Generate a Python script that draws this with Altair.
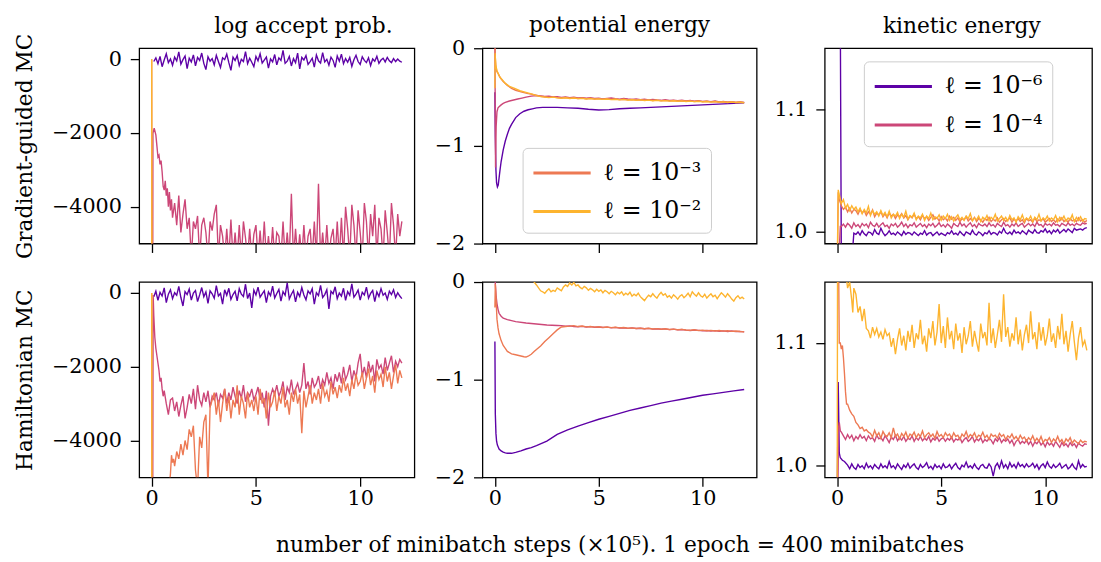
import altair as alt
import pandas as pd

L6, L4, L3, L2 = "ℓ = 10⁻⁶", "ℓ = 10⁻⁴", "ℓ = 10⁻³", "ℓ = 10⁻²"
SERIES = [L6, L4, L3, L2]
COLORS = ["#5d01a6", "#cc4778", "#ed7953", "#fdb42f"]
FONT = "DejaVu Serif"

COL_TITLES = ["log accept prob.", "potential energy", "kinetic energy"]
ROW_TITLES = ["Gradient-guided MC", "Hamiltonian MC"]
X_TITLE = "number of minibatch steps (×10⁵). 1 epoch = 400 minibatches"
X_TICKS = [0, 5, 10]
LOGP_TICKS = [0, -2000, -4000]
PE_TICKS = [0, -1, -2]
KE_TICKS = [1.0, 1.1]

# ---------------- Gradient-guided MC : log accept prob. ----------------
gg_lap_l6_tail_start = 0.1
gg_lap_l6_tail = [
    -60, 40, -120, 80, -200, -20, 150, -90, 10, -160,
    60, -40, 200, -130, -10, 90, -250, 30, -70, 120,
    -180, 50, -30, 170, -110, -280, 70, -50, 20, -150,
    110, -60, -220, 40, -10, 140, -90, -300, 60, -30,
    100, -170, 0, -60, 210, -120, 30, -80, -200, 80,
    -40, 150, -100, -20, 60, -240, 10, -70, 130, -150,
    40, -30, 240, -110, -50, 80, -180, 20, -90, 170,
    -260, 50, -20, 100, -140, -60, 30, -210, 120, -40,
    -100, 180, -70, 0, -160, 60, -30, -220, 90, -50,
    140, -120, 20, -80, 50, -190, -10, 110, -60, -140,
    70, -30, -90, 40, -170, 10, -50, 80, -110, -20,
    30, -70, 50, -40, -90, 20, -60, 10, -50, -80]
gg_lap_l4_head_x = [0.05, 0.06, 0.12, 0.2, 0.25, 0.3, 0.35, 0.4, 0.45, 0.5, 0.55, 0.6, 0.65, 0.7, 0.75, 0.8, 0.85, 0.9, 0.95, 1.0]
gg_lap_l4_head_y = [-5600, -2000, -1870, -2050, -2350, -2650, -2600, -2850, -2750, -3050, -3450, -3550, -3300, -3700, -3500, -4000, -3600, -4100, -3800, -4300]
gg_lap_l4_tail_start = 1.1
gg_lap_l4_tail = [
    -3900, -4500, -3700, -4700, -4200, -3800, -4600, -4300, -5400, -4400,
    -4600, -4250, -5400, -4500, -4300, -4700, -5400, -4400, -4650, -4200,
    -3950, -5400, -4500, -4800, -5400, -4600, -5400, -4350, -5400, -4700,
    -5400, -4500, -5400, -4400, -4850, -5400, -4600, -5400, -4750, -4500,
    -5400, -4650, -5400, -4400, -5400, -4800, -5400, -4550, -5400, -4700,
    -4800, -5400, -4400, -5400, -4700, -5400, -3650, -5400, -4600, -5400,
    -4750, -5400, -4500, -5400, -4800, -4600, -5400, -4400, -5400, -3380,
    -5400, -4700, -5400, -4500, -5400, -4850, -4600, -5400, -4400, -5400,
    -4300, -5400, -4000, -4600, -5400, -3950, -4500, -5400, -4100, -4700,
    -5400, -3900, -4400, -5400, -4200, -4800, -3950, -5400, -4300, -4600,
    -5400, -4100, -4700, -5400, -3900, -4500, -5400, -4200, -4800, -4400]
gg_lap_l3_x = [0, 0.01, 12]
gg_lap_l3_y = [0, -6000, -6000]
gg_lap_l2_x = [0, 0.01, 12]
gg_lap_l2_y = [0, -6000, -6000]

# ---------------- Gradient-guided MC : potential energy ----------------
gg_pe_l6_x = [0, 0.02, 0.05, 0.08, 0.12, 0.16, 0.2, 0.25, 0.3, 0.4, 0.5, 0.6, 0.7, 0.8, 1.0, 1.2, 1.4, 1.6, 1.8, 2.0,
              2.3, 2.6, 3.0, 3.5, 4.0, 4.5, 5.0, 5.5, 6.0, 6.5, 7.0, 7.5, 8.0, 8.5, 9.0, 9.5, 10.0, 10.5, 11.0, 11.5, 12.0]
gg_pe_l6_y = [-0.45, -0.9, -1.25, -1.38, -1.42, -1.40, -1.33, -1.24, -1.16, -1.04, -0.95, -0.88, -0.82, -0.78, -0.71,
              -0.67, -0.645, -0.63, -0.62, -0.61, -0.605, -0.605, -0.605, -0.61, -0.615, -0.625, -0.632, -0.628,
              -0.62, -0.615, -0.61, -0.605, -0.60, -0.595, -0.59, -0.585, -0.58, -0.575, -0.57, -0.565, -0.558]
gg_pe_l4_head_x = [0, 0.015, 0.03, 0.06, 0.1, 0.15, 0.2, 0.3, 0.4, 0.5, 0.7, 0.9, 1.1, 1.3, 1.5, 1.75, 2.0]
gg_pe_l4_head_y = [0.05, -0.6, -1.22, -0.8, -0.65, -0.61, -0.6, -0.58, -0.565, -0.555, -0.54, -0.53, -0.52, -0.51, -0.5, -0.49, -0.485]
gg_pe_l3_head_x = [0, 0.02, 0.05, 0.1, 0.16, 0.25, 0.4, 0.6, 0.8, 1.0, 1.3, 1.6, 2.0]
gg_pe_l3_head_y = [0.1, -0.1, -0.2, -0.24, -0.26, -0.3, -0.34, -0.38, -0.41, -0.43, -0.45, -0.465, -0.48]
gg_pe_l2_head_x = [0, 0.01, 0.04, 0.1, 0.2, 0.3, 0.5, 0.7, 0.95, 1.2, 1.45, 1.8, 2.0]
gg_pe_l2_head_y = [-0.41, -0.05, -0.17, -0.23, -0.28, -0.31, -0.36, -0.39, -0.41, -0.435, -0.45, -0.47, -0.485]
gg_pe_tail_start = 2.2
gg_pe_l4_tail = [
    -0.487, -0.494, -0.491, -0.499, -0.496, -0.503, -0.498, -0.506, -0.502, -0.509,
    -0.507, -0.512, -0.506, -0.515, -0.511, -0.518, -0.513, -0.509, -0.516, -0.521,
    -0.514, -0.52, -0.525, -0.518, -0.526, -0.522, -0.53, -0.524, -0.529, -0.533,
    -0.526, -0.535, -0.531, -0.538, -0.532, -0.54, -0.535, -0.543, -0.537, -0.545,
    -0.541, -0.547, -0.54, -0.549, -0.545, -0.552, -0.547, -0.554, -0.55, -0.556]
gg_pe_l3_tail = [
    -0.492, -0.497, -0.503, -0.498, -0.505, -0.51, -0.504, -0.511, -0.507, -0.514,
    -0.51, -0.517, -0.513, -0.519, -0.516, -0.522, -0.517, -0.524, -0.52, -0.526,
    -0.522, -0.528, -0.524, -0.531, -0.527, -0.533, -0.529, -0.535, -0.531, -0.537,
    -0.534, -0.539, -0.535, -0.541, -0.537, -0.543, -0.539, -0.545, -0.541, -0.547,
    -0.543, -0.549, -0.545, -0.551, -0.547, -0.553, -0.549, -0.555, -0.551, -0.557]
gg_pe_l2_tail = [
    -0.495, -0.5, -0.505, -0.501, -0.508, -0.512, -0.507, -0.514, -0.51, -0.516,
    -0.513, -0.519, -0.515, -0.521, -0.518, -0.524, -0.52, -0.526, -0.522, -0.528,
    -0.524, -0.531, -0.527, -0.533, -0.529, -0.535, -0.531, -0.537, -0.533, -0.539,
    -0.536, -0.541, -0.537, -0.543, -0.539, -0.545, -0.541, -0.547, -0.543, -0.549,
    -0.545, -0.551, -0.547, -0.553, -0.549, -0.555, -0.551, -0.556, -0.553, -0.558]

# ---------------- Gradient-guided MC : kinetic energy ----------------
gg_ke_l6_head_x = [0, 0.12, 0.2, 0.7]
gg_ke_l6_head_y = [1.3, 1.3, 0.97, 0.975]
gg_ke_l6_tail_start = 0.8
gg_ke_l6_tail = [
    0.9985, 0.9975, 0.9995, 0.997, 1.0005, 0.998, 0.9965, 0.9995, 0.999, 0.997,
    1.0015, 0.9985, 0.9975, 1.0025, 0.999, 0.9965, 0.998, 1.0005, 0.9975, 0.9985,
    0.997, 0.9995, 0.998, 0.9965, 1.0, 0.9975, 0.999, 0.9985, 0.997, 0.9995,
    0.998, 0.9965, 0.9985, 0.9975, 1.0005, 0.997, 0.9985, 0.999, 0.9965, 0.998,
    0.9995, 0.997, 0.9985, 0.9975, 0.9965, 0.999, 0.998, 1.0005, 0.9975, 0.9985,
    0.997, 1.0, 0.998, 0.9965, 0.9995, 0.9985, 0.9975, 1.001, 0.998, 0.997,
    0.9995, 0.9985, 0.9965, 0.999, 0.998, 1.0005, 0.9975, 0.999, 0.9985, 0.997,
    1.0, 0.9985, 1.0025, 0.999, 0.998, 0.9995, 0.9975, 1.001, 0.9985, 0.9995,
    0.998, 1.0005, 0.999, 0.9975, 1.001, 0.9995, 0.9985, 1.0015, 0.999, 0.9985,
    1.0005, 0.9995, 1.002, 0.999, 1.0005, 0.998, 1.001, 0.9995, 1.0015, 0.9985,
    1.0, 1.0015, 0.9995, 1.002, 1.0005, 0.999, 1.0025, 1.001, 1.0015, 1.002,
    1.001, 1.0025, 1.003]
gg_ke_l4_head_x = [0, 0.1, 0.15]
gg_ke_l4_head_y = [0.96, 0.985, 1.004]
gg_ke_l4_tail_start = 0.2
gg_ke_l4_tail = [
    1.004, 1.006, 1.0035, 1.0065, 1.005, 1.0025, 1.007, 1.004, 1.0055, 1.003,
    1.0065, 1.0045, 1.006, 1.003, 1.0075, 1.005, 1.004, 1.0065, 1.0035, 1.0055,
    1.007, 1.004, 1.005, 1.0025, 1.006, 1.0045, 1.0065, 1.0035, 1.005, 1.0075,
    1.004, 1.006, 1.003, 1.0055, 1.0045, 1.007, 1.0035, 1.005, 1.0065, 1.004,
    1.0055, 1.003, 1.006, 1.0045, 1.0065, 1.0035, 1.005, 1.007, 1.004, 1.0055,
    1.0035, 1.006, 1.0045, 1.0025, 1.0065, 1.005, 1.004, 1.0075, 1.0045, 1.006,
    1.0035, 1.0055, 1.007, 1.004, 1.0055, 1.003, 1.0065, 1.005, 1.0045, 1.006,
    1.004, 1.007, 1.0045, 1.0055, 1.0035, 1.0065, 1.005, 1.004, 1.0075, 1.0045,
    1.0055, 1.0035, 1.006, 1.0045, 1.007, 1.004, 1.0055, 1.0065, 1.0035, 1.005,
    1.0065, 1.0045, 1.006, 1.004, 1.0075, 1.005, 1.0055, 1.0035, 1.0065, 1.005,
    1.006, 1.0045, 1.007, 1.005, 1.0055, 1.004, 1.0065, 1.0055, 1.0045, 1.007,
    1.005, 1.006, 1.0045, 1.0065, 1.0055, 1.005, 1.007, 1.006, 1.0065]
gg_ke_l3_head_x = [0, 0.05]
gg_ke_l3_head_y = [0.96, 1.032]
gg_ke_l3_tail_start = 0.1
gg_ke_l3_tail = [
    1.026, 1.021, 1.018, 1.02, 1.016, 1.019, 1.015, 1.018, 1.017, 1.014,
    1.018, 1.015, 1.017, 1.013, 1.016, 1.014, 1.0175, 1.012, 1.015, 1.0135,
    1.016, 1.012, 1.0145, 1.011, 1.015, 1.0125, 1.014, 1.0105, 1.0135, 1.012,
    1.0145, 1.011, 1.013, 1.0095, 1.0125, 1.011, 1.014, 1.0105, 1.012, 1.0095,
    1.013, 1.0105, 1.012, 1.009, 1.0115, 1.0135, 1.01, 1.0115, 1.0085, 1.012,
    1.0095, 1.011, 1.0085, 1.0125, 1.01, 1.0115, 1.009, 1.011, 1.008, 1.0105,
    1.0095, 1.012, 1.0085, 1.0105, 1.009, 1.0115, 1.008, 1.0105, 1.0095, 1.0075,
    1.0105, 1.009, 1.0115, 1.008, 1.01, 1.0085, 1.011, 1.0075, 1.0095, 1.0105,
    1.008, 1.0095, 1.011, 1.0075, 1.01, 1.0085, 1.0105, 1.008, 1.0095, 1.007,
    1.0105, 1.0085, 1.0095, 1.0075, 1.011, 1.008, 1.0095, 1.0085, 1.0105, 1.0075,
    1.009, 1.0105, 1.008, 1.0095, 1.0075, 1.01, 1.0085, 1.011, 1.008, 1.0095,
    1.0075, 1.0105, 1.0085, 1.0095, 1.008, 1.011, 1.0085, 1.0095, 1.0075, 1.009]
gg_ke_l2_head_x = [0, 0.05]
gg_ke_l2_head_y = [0.97, 1.034]
gg_ke_l2_tail_start = 0.1
gg_ke_l2_tail = [
    1.03, 1.023, 1.026, 1.019, 1.022, 1.017, 1.021, 1.018, 1.02, 1.016,
    1.019, 1.0145, 1.018, 1.015, 1.0205, 1.013, 1.017, 1.014, 1.016, 1.0125,
    1.017, 1.013, 1.0155, 1.012, 1.0165, 1.011, 1.014, 1.0125, 1.0155, 1.0105,
    1.014, 1.0115, 1.0165, 1.01, 1.013, 1.0115, 1.015, 1.0095, 1.0125, 1.011,
    1.014, 1.009, 1.0125, 1.0105, 1.015, 1.0095, 1.012, 1.0105, 1.0135, 1.009,
    1.0125, 1.0105, 1.014, 1.009, 1.012, 1.0085, 1.0115, 1.0135, 1.0095, 1.0115,
    1.009, 1.0125, 1.0105, 1.0145, 1.0085, 1.011, 1.0095, 1.0125, 1.008, 1.0115,
    1.0095, 1.013, 1.0085, 1.0115, 1.01, 1.014, 1.0085, 1.0105, 1.0125, 1.009,
    1.0115, 1.0085, 1.013, 1.0095, 1.011, 1.0075, 1.012, 1.0095, 1.0135, 1.0085,
    1.011, 1.0095, 1.0125, 1.008, 1.0115, 1.0095, 1.014, 1.0085, 1.011, 1.0095,
    1.0125, 1.0085, 1.011, 1.0095, 1.013, 1.008, 1.0115, 1.0095, 1.0125, 1.0085,
    1.011, 1.0095, 1.0135, 1.008, 1.0115, 1.009, 1.012, 1.0085, 1.0105, 1.01]

# ---------------- Hamiltonian MC : log accept prob. ----------------
hm_lap_l6_tail_start = 0.1
hm_lap_l6_tail = [
    -100, 50, -200, 20, -80, 140, -260, -30, 90, -150,
    10, -60, 180, -120, -350, 40, -40, 110, -190, 0,
    70, -230, -50, 150, -100, 30, -280, 60, -20, -140,
    200, -80, -10, -300, 90, -60, 130, -170, -40, 50,
    -210, 120, -30, -90, 240, -150, 0, -400, 80, -50,
    160, -110, -20, 60, -260, 30, -70, 190, -130, -10,
    100, -220, 40, -60, 280, -160, -30, 70, -240, 20,
    -90, 150, -50, -180, 60, -20, 120, -300, 10, -70,
    210, -120, -40, 90, -430, 50, -20, 170, -150, 0,
    -80, 130, -200, 40, -60, 250, -110, -30, 80, -190,
    20, -50, 160, -140, -10, 70, -230, 30, -90, 120,
    -60, 0, -170, 50, -40, 90, -120, 10, -80, -150]
hm_lap_l4_head_x = [0.05, 0.07, 0.1, 0.15, 0.2, 0.25, 0.3, 0.35, 0.4, 0.45, 0.5, 0.55, 0.6, 0.7, 0.8, 0.9]
hm_lap_l4_head_y = [-5600, -50, -600, -1200, -1500, -1700, -1900, -2100, -2400, -2300, -2600, -2800, -2650, -3000, -3300, -2900]
hm_lap_l4_tail_start = 1.0
hm_lap_l4_tail = [
    -2850, -3200, -2950, -3350, -3050, -2800, -3400, -3100, -2750, -3000,
    -2600, -3150, -2500, -2900, -3050, -2700, -2950, -2650, -3100, -2800,
    -2900, -2700, -3050, -2750, -2850, -2600, -3000, -2700, -2900, -2550,
    -2800, -3000, -2650, -2850, -2500, -2950, -2700, -2800, -2600, -2900,
    -2750, -2550, -2900, -2700, -3100, -2650, -3600, -2800, -2600, -2750,
    -2500, -2800, -2650, -2400, -2900, -2550, -2700, -2350, -2750, -2600,
    -2450, -2700, -2500, -1900, -2600, -2400, -2750, -2300, -2550, -2450,
    -2250, -2600, -2350, -2500, -2150, -2450, -2300, -2600, -2200, -2400,
    -2150, -2450, -2000, -2350, -2200, -1950, -2400, -2100, -2300, -1900,
    -1650, -2250, -2000, -2300, -1850, -2150, -1950, -2400, -1800, -2050,
    -1950, -2200, -1750, -2100, -1900, -1700, -2150, -1850, -2000, -1800, -1900]
hm_lap_l3_head_x = [0, 0.01, 0.85, 0.9, 0.95, 1.0, 1.05, 1.1, 1.2, 1.3, 1.4, 1.5, 1.6, 1.7, 1.8, 1.9, 2.0,
                    2.1, 2.2, 2.3, 2.4, 2.5, 2.6, 2.7, 2.8, 2.9]
hm_lap_l3_head_y = [0, -6000, -5200, -4900, -4400, -4600, -4500, -4700, -4300, -4500, -4100, -4400, -4000,
                    -4250, -3700, -3900, -3600, -4800, -5300, -3900, -4200, -3500, -3300, -5300, -3100, -2900]
hm_lap_l3_tail_start = 3.0
hm_lap_l3_tail = [
    -2700, -3300, -2900, -3500, -3000, -2600, -3200, -2800, -3400, -2900,
    -3100, -2500, -3300, -2800, -3000, -3400, -2700, -3100, -2900, -3200,
    -2800, -3300, -2600, -3000, -2850, -3400, -2700, -3100, -2950, -2650,
    -3200, -2800, -3000, -2550, -3100, -2900, -3300, -2700, -2950, -2600,
    -3000, -2750, -3800, -2650, -3100, -2800, -2500, -3000, -2700, -2900,
    -2600, -3000, -2450, -2800, -2650, -2950, -2400, -2750, -2550, -2850,
    -2500, -2700, -2300, -2650, -2450, -2800, -2350, -2600, -2200, -2500,
    -2400, -2150, -2600, -2300, -2050, -2500, -2250, -2700, -2100, -2350,
    -2200, -2550, -2000, -2400, -2150, -2600, -2250, -1950, -2450, -2100, -2300]
hm_lap_l2_x = [0, 0.01, 12]
hm_lap_l2_y = [0, -6000, -6000]

# ---------------- Hamiltonian MC : potential energy ----------------
hm_pe_l6_x = [0, 0.02, 0.05, 0.08, 0.12, 0.16, 0.2, 0.3, 0.4, 0.5, 0.6, 0.8, 1.0, 1.25, 1.5, 1.75, 2.0, 2.5, 3.0,
              3.5, 4.0, 4.5, 5.0, 5.5, 6.0, 6.5, 7.0, 7.5, 8.0, 8.5, 9.0, 9.5, 10.0, 10.5, 11.0, 11.5, 12.0]
hm_pe_l6_y = [-0.61, -1.35, -1.55, -1.63, -1.67, -1.69, -1.71, -1.73, -1.742, -1.75, -1.753, -1.754, -1.745,
              -1.73, -1.71, -1.695, -1.675, -1.63, -1.56, -1.515, -1.475, -1.44, -1.405, -1.375, -1.345, -1.315,
              -1.29, -1.265, -1.24, -1.22, -1.2, -1.18, -1.16, -1.145, -1.13, -1.115, -1.1]
hm_pe_l4_head_x = [0, 0.03, 0.06, 0.1, 0.15, 0.2, 0.3, 0.4, 0.6, 0.8, 1.0, 1.5, 2.0, 2.5, 3.0]
hm_pe_l4_head_y = [0.05, -0.05, -0.15, -0.22, -0.28, -0.32, -0.35, -0.37, -0.385, -0.395, -0.405, -0.42, -0.43, -0.44, -0.445]
hm_pe_l4_tail_start = 3.2
hm_pe_l4_tail = [
    -0.447, -0.452, -0.449, -0.455, -0.458, -0.454, -0.461, -0.457, -0.463, -0.46,
    -0.466, -0.462, -0.469, -0.465, -0.471, -0.468, -0.474, -0.47, -0.476, -0.473,
    -0.479, -0.475, -0.482, -0.478, -0.484, -0.48, -0.487, -0.483, -0.49, -0.486,
    -0.492, -0.497, -0.491, -0.495, -0.5, -0.496, -0.502, -0.498, -0.504, -0.5,
    -0.506, -0.502, -0.508, -0.505, -0.511]
hm_pe_l3_head_x = [0, 0.02, 0.05, 0.1, 0.15, 0.2, 0.3, 0.4, 0.5, 0.6, 0.8, 1.0, 1.2, 1.4, 1.5, 1.6, 1.75, 1.9,
                   2.0, 2.2, 2.4, 2.6, 2.8, 3.0, 3.2, 3.4]
hm_pe_l3_head_y = [-0.26, -0.02, -0.15, -0.38, -0.47, -0.53, -0.6, -0.65, -0.68, -0.71, -0.735, -0.745, -0.755,
                   -0.765, -0.768, -0.76, -0.74, -0.71, -0.69, -0.655, -0.61, -0.57, -0.53, -0.49, -0.46, -0.455]
hm_pe_l3_tail_start = 3.6
hm_pe_l3_tail = [
    -0.452, -0.447, -0.456, -0.451, -0.459, -0.455, -0.462, -0.458,
    -0.464, -0.46, -0.467, -0.463, -0.47, -0.466, -0.473, -0.469, -0.476, -0.472,
    -0.478, -0.474, -0.481, -0.477, -0.484, -0.479, -0.486, -0.482, -0.489, -0.485,
    -0.491, -0.494, -0.489, -0.497, -0.493, -0.499, -0.495, -0.501, -0.497, -0.503,
    -0.499, -0.505, -0.501, -0.507, -0.51]
hm_pe_l2_head_x = [0, 1.85]
hm_pe_l2_head_y = [0.3, 0.01]
hm_pe_l2_tail_start = 2.0
hm_pe_l2_tail = [
    -0.03, -0.06, -0.09, -0.1, -0.115, -0.09, -0.07, -0.1, -0.085, -0.095,
    -0.06, -0.075, -0.09, -0.05, -0.03, -0.045, -0.01, -0.03, -0.005, -0.04,
    -0.03, -0.055, -0.07, -0.045, -0.06, -0.085, -0.065, -0.08, -0.1, -0.075,
    -0.095, -0.08, -0.11, -0.085, -0.1, -0.12, -0.095, -0.11, -0.13, -0.105,
    -0.12, -0.1, -0.135, -0.115, -0.13, -0.105, -0.145, -0.125, -0.14, -0.115,
    -0.15, -0.17, -0.19, -0.16, -0.135, -0.15, -0.12, -0.145, -0.165, -0.13,
    -0.105, -0.135, -0.12, -0.155, -0.14, -0.165, -0.13, -0.15, -0.175, -0.145,
    -0.13, -0.16, -0.14, -0.115, -0.15, -0.1, -0.125, -0.145, -0.11, -0.14,
    -0.155, -0.125, -0.165, -0.14, -0.12, -0.15, -0.135, -0.17, -0.14, -0.11,
    -0.13, -0.155, -0.12, -0.145, -0.175, -0.195, -0.16, -0.14, -0.17, -0.155,
    -0.175]

# ---------------- Hamiltonian MC : kinetic energy ----------------
hm_ke_l6_head_x = [0, 0.05, 0.1, 0.15, 0.25, 0.35]
hm_ke_l6_head_y = [0.97, 1.068, 1.01, 1.006, 1.004, 1.003]
hm_ke_l6_tail_start = 0.5
hm_ke_l6_tail = [
    1.0, 0.997, 1.001, 0.998, 0.9965, 1.0005, 0.998, 0.9995, 0.997, 1.0015,
    0.998, 0.9995, 0.997, 1.0005, 0.9985, 0.997, 1.001, 0.998, 0.9995, 0.9975,
    1.003, 0.998, 0.9995, 0.997, 1.001, 0.9985, 0.9965, 1.0, 0.998, 1.0015,
    0.9975, 0.9995, 1.001, 0.998, 0.9965, 1.0005, 0.998, 0.9995, 1.002, 0.9975,
    0.999, 0.9965, 1.0005, 0.998, 0.9995, 0.997, 1.001, 0.998, 0.9985, 1.0005,
    0.997, 0.9995, 1.0015, 0.998, 0.9965, 1.0, 0.9985, 1.0025, 0.998, 0.9995,
    0.9975, 1.001, 0.998, 0.9965, 0.9995, 1.0005, 0.998, 0.9975, 1.001, 0.9985,
    0.991, 0.999, 1.0015, 0.9975, 1.0035, 0.998, 1.0005, 0.997, 1.002, 0.9985,
    1.0005, 0.9975, 1.002, 0.999, 1.0005, 0.998, 1.001, 0.9985, 0.9995, 1.0015,
    0.998, 1.0005, 0.9965, 0.9995, 1.001, 0.998, 1.0025, 0.999, 0.9975, 1.0005,
    0.998, 0.9995, 1.0015, 0.9975, 0.999, 1.0005, 0.997, 0.9985, 1.001, 0.998,
    0.9965, 1.0035, 0.998, 1.0005, 0.9985, 0.999]
hm_ke_l4_head_x = [0, 0.03, 0.06, 0.1, 0.15]
hm_ke_l4_head_y = [0.97, 0.97, 1.03, 1.035, 1.028]
hm_ke_l4_tail_start = 0.2
hm_ke_l4_tail = [
    1.027, 1.024, 1.021, 1.025, 1.022, 1.0245, 1.02, 1.0235, 1.0215, 1.025,
    1.022, 1.0235, 1.02, 1.024, 1.0215, 1.0225, 1.0195, 1.0245, 1.0215, 1.0225,
    1.02, 1.024, 1.0215, 1.0185, 1.023, 1.021, 1.0245, 1.02, 1.0225, 1.0205,
    1.0235, 1.0195, 1.022, 1.021, 1.024, 1.0195, 1.0225, 1.0205, 1.0235, 1.02,
    1.022, 1.0205, 1.0235, 1.019, 1.022, 1.0205, 1.023, 1.0195, 1.0215, 1.0225,
    1.0195, 1.022, 1.0205, 1.023, 1.019, 1.0215, 1.0205, 1.0225, 1.0185, 1.021,
    1.0225, 1.0195, 1.021, 1.0235, 1.019, 1.0215, 1.02, 1.0225, 1.0185, 1.021,
    1.0195, 1.022, 1.0205, 1.0175, 1.0215, 1.0195, 1.0225, 1.0185, 1.021, 1.0195,
    1.0215, 1.018, 1.0205, 1.016, 1.0195, 1.021, 1.0175, 1.0195, 1.018, 1.0205,
    1.017, 1.0195, 1.0155, 1.019, 1.0175, 1.02, 1.0165, 1.0185, 1.015, 1.019,
    1.0165, 1.018, 1.0155, 1.0195, 1.017, 1.0145, 1.0185, 1.016, 1.0175, 1.015,
    1.0185, 1.016, 1.0175, 1.0145, 1.018, 1.0165, 1.0155, 1.0175, 1.017]
hm_ke_l3_head_x = [0, 0.05, 0.1, 0.15, 0.2, 0.25, 0.3, 0.35, 0.4, 0.45, 0.5, 0.6, 0.7, 0.8, 0.9, 1.0, 1.1, 1.2,
                   1.3, 1.4, 1.5]
hm_ke_l3_head_y = [1.2, 1.2, 1.1, 1.1, 1.095, 1.098, 1.088, 1.075, 1.06, 1.05, 1.05, 1.045, 1.042, 1.04, 1.035,
                   1.033, 1.03, 1.031, 1.028, 1.029, 1.027]
hm_ke_l3_tail_start = 1.6
hm_ke_l3_tail = [
    1.026, 1.023, 1.0285, 1.024, 1.0265, 1.022, 1.0275, 1.0245, 1.0235, 1.0265,
    1.0225, 1.0305, 1.0235, 1.0255, 1.0215, 1.026, 1.0235, 1.027, 1.022, 1.0255,
    1.024, 1.027, 1.0225, 1.0255, 1.0235, 1.028, 1.0225, 1.025, 1.0265, 1.0235,
    1.0255, 1.022, 1.0275, 1.0235, 1.025, 1.0225, 1.0265, 1.024, 1.0255, 1.022,
    1.0265, 1.0235, 1.0245, 1.021, 1.0255, 1.0235, 1.0275, 1.0225, 1.025, 1.0235,
    1.0265, 1.022, 1.0245, 1.0235, 1.027, 1.0225, 1.0245, 1.021, 1.0255, 1.0235,
    1.0245, 1.022, 1.026, 1.0235, 1.025, 1.021, 1.024, 1.0225, 1.0255, 1.0215,
    1.0235, 1.0205, 1.0245, 1.0215, 1.023, 1.0195, 1.0225, 1.0205, 1.024, 1.0195,
    1.022, 1.0195, 1.0235, 1.0185, 1.021, 1.02, 1.0225, 1.0185, 1.0215, 1.0195,
    1.0235, 1.019, 1.021, 1.0175, 1.0215, 1.0195, 1.0225, 1.018, 1.0205, 1.019,
    1.0175, 1.0205, 1.0185, 1.0195, 1.019]
hm_ke_l2_head_x = [0, 0.02, 0.4, 0.5, 0.6, 0.7, 0.75, 0.8, 0.9, 1.0, 1.1, 1.2, 1.3, 1.4]
hm_ke_l2_head_y = [0.97, 1.2, 1.16, 1.145, 1.15, 1.135, 1.125, 1.145, 1.14, 1.125, 1.13, 1.118, 1.128, 1.112]
hm_ke_l2_tail_start = 1.5
hm_ke_l2_tail = [
    1.11, 1.104, 1.113, 1.107, 1.112, 1.105, 1.109, 1.103, 1.111, 1.106,
    1.108, 1.097, 1.104, 1.091, 1.103, 1.112, 1.098, 1.106, 1.094, 1.11,
    1.101, 1.115, 1.096, 1.108, 1.103, 1.119, 1.099, 1.106, 1.093, 1.112,
    1.104, 1.118, 1.098, 1.109, 1.132, 1.1, 1.114, 1.096, 1.121, 1.103,
    1.11, 1.095, 1.116, 1.102, 1.108, 1.092, 1.113, 1.099, 1.106, 1.118,
    1.097, 1.11, 1.101, 1.093, 1.116, 1.104, 1.109, 1.098, 1.133, 1.1,
    1.112, 1.096, 1.107, 1.119, 1.101, 1.14, 1.105, 1.113, 1.097, 1.108,
    1.102, 1.121, 1.099, 1.111, 1.094, 1.107, 1.115, 1.1, 1.126, 1.103,
    1.109, 1.095, 1.117, 1.102, 1.113, 1.098, 1.106, 1.12, 1.101, 1.108,
    1.096, 1.114, 1.103, 1.124, 1.099, 1.11, 1.093, 1.107, 1.118, 1.101,
    1.086, 1.104, 1.113, 1.098, 1.102, 1.094]


def grid(start, vals, step=0.1):
    return [round(start + step * i, 3) for i in range(len(vals))]


def series(head_x, head_y, tail_start=None, tail=None, step=0.1):
    xs, ys = list(head_x), list(head_y)
    if tail is not None:
        xs += grid(tail_start, tail, step)
        ys += list(tail)
    return xs, ys


CSCALE = alt.Scale(domain=SERIES, range=COLORS)


def make_legend(values, lx, ly):
    return alt.Legend(values=values, orient="none", legendX=lx, legendY=ly, title=None,
                      symbolType="M-1,0H3", symbolSize=841, symbolStrokeWidth=3,
                      labelOffset=40, labelFontSize=24, labelFont=FONT, labelColor="black",
                      rowPadding=11, padding=9.5, fillColor="rgba(255,255,255,0.8)",
                      strokeColor="#cccccc", cornerRadius=5)


def panel(data, xmax, width, ydom, yticks, yexpr, show_xlabels, ytitle=None, xtitle=None,
          title=None, title_dx=0, title_dy=0, legend=None):
    xaxis_kw = dict(values=X_TICKS, labels=show_xlabels, format="d", labelPadding=2)
    if xtitle:
        xaxis_kw.update(titlePadding=26, titleFontSize=22)
    yaxis_kw = dict(values=yticks, labelExpr=yexpr, labelPadding=9)
    if ytitle:
        yaxis_kw.update(titleX=-104, titleFontSize=22)
    x = alt.X("x:Q", scale=alt.Scale(domain=[-0.6, xmax], nice=False, zero=False),
              axis=alt.Axis(**xaxis_kw), title=xtitle)
    y = alt.Y("y:Q", scale=alt.Scale(domain=ydom, nice=False, zero=False),
              axis=alt.Axis(**yaxis_kw), title=ytitle)
    layers = []
    for name, (xs, ys) in zip(SERIES, data):
        df = pd.DataFrame({"x": xs, "y": ys, "s": [name] * len(xs)})
        layers.append(alt.Chart(df).mark_line(clip=True, strokeWidth=1.4).encode(
            x=x, y=y, color=alt.Color("s:N", scale=CSCALE, legend=legend)))
    ch = alt.layer(*layers).properties(width=width, height=198)
    if title:
        ch = ch.properties(title=alt.TitleParams(text=title, dx=title_dx, dy=title_dy, offset=14,
                                                 anchor="middle", frame="group", baseline="alphabetic",
                                                 fontSize=22, font=FONT, fontWeight="normal",
                                                 color="black"))
    return ch


LAP_EXPR = "replace(format(datum.value, 'd'), '-', '−')"
KE_EXPR = "format(datum.value, '.1f')"

gg_lap = [series([], [], gg_lap_l6_tail_start, gg_lap_l6_tail),
          series(gg_lap_l4_head_x, gg_lap_l4_head_y, gg_lap_l4_tail_start, gg_lap_l4_tail),
          series(gg_lap_l3_x, gg_lap_l3_y),
          series(gg_lap_l2_x, gg_lap_l2_y)]
gg_pe = [series(gg_pe_l6_x, gg_pe_l6_y),
         series(gg_pe_l4_head_x, gg_pe_l4_head_y, gg_pe_tail_start, gg_pe_l4_tail, 0.2),
         series(gg_pe_l3_head_x, gg_pe_l3_head_y, gg_pe_tail_start, gg_pe_l3_tail, 0.2),
         series(gg_pe_l2_head_x, gg_pe_l2_head_y, gg_pe_tail_start, gg_pe_l2_tail, 0.2)]
gg_ke = [series(gg_ke_l6_head_x, gg_ke_l6_head_y, gg_ke_l6_tail_start, gg_ke_l6_tail),
         series(gg_ke_l4_head_x, gg_ke_l4_head_y, gg_ke_l4_tail_start, gg_ke_l4_tail),
         series(gg_ke_l3_head_x, gg_ke_l3_head_y, gg_ke_l3_tail_start, gg_ke_l3_tail),
         series(gg_ke_l2_head_x, gg_ke_l2_head_y, gg_ke_l2_tail_start, gg_ke_l2_tail)]
hm_lap = [series([], [], hm_lap_l6_tail_start, hm_lap_l6_tail),
          series(hm_lap_l4_head_x, hm_lap_l4_head_y, hm_lap_l4_tail_start, hm_lap_l4_tail),
          series(hm_lap_l3_head_x, hm_lap_l3_head_y, hm_lap_l3_tail_start, hm_lap_l3_tail),
          series(hm_lap_l2_x, hm_lap_l2_y)]
hm_pe = [series(hm_pe_l6_x, hm_pe_l6_y),
         series(hm_pe_l4_head_x, hm_pe_l4_head_y, hm_pe_l4_tail_start, hm_pe_l4_tail, 0.2),
         series(hm_pe_l3_head_x, hm_pe_l3_head_y, hm_pe_l3_tail_start, hm_pe_l3_tail, 0.2),
         series(hm_pe_l2_head_x, hm_pe_l2_head_y, hm_pe_l2_tail_start, hm_pe_l2_tail)]
hm_ke = [series(hm_ke_l6_head_x, hm_ke_l6_head_y, hm_ke_l6_tail_start, hm_ke_l6_tail),
         series(hm_ke_l4_head_x, hm_ke_l4_head_y, hm_ke_l4_tail_start, hm_ke_l4_tail),
         series(hm_ke_l3_head_x, hm_ke_l3_head_y, hm_ke_l3_tail_start, hm_ke_l3_tail),
         series(hm_ke_l2_head_x, hm_ke_l2_head_y, hm_ke_l2_tail_start, hm_ke_l2_tail)]

p11 = panel(gg_lap, 12.6, 279, [-5000, 300], LOGP_TICKS, LAP_EXPR, False, ytitle=ROW_TITLES[0],
            title=COL_TITLES[0], title_dx=27, title_dy=36)
p12 = panel(gg_pe, 12.6, 278, [-2, 0], PE_TICKS, LAP_EXPR, False, title=COL_TITLES[1], title_dy=31,
            legend=make_legend([L3, L2], 40.7, 101))
p13 = panel(gg_ke, 12.25, 271, [0.99, 1.15], KE_TICKS, KE_EXPR, False, title=COL_TITLES[2], title_dx=3.5,
            title_dy=21, legend=make_legend([L6, L4], 39.7, 13.3))
p21 = panel(hm_lap, 12.6, 279, [-5000, 300], LOGP_TICKS, LAP_EXPR, True, ytitle=ROW_TITLES[1])
p22 = panel(hm_pe, 12.6, 278, [-2, 0], PE_TICKS, LAP_EXPR, True, xtitle=X_TITLE)
p23 = panel(hm_ke, 12.25, 271, [0.99, 1.15], KE_TICKS, KE_EXPR, True)

chart = alt.concat(p11, p12, p13, p21, p22, p23, columns=3, spacing={"row": 39, "column": 69},
                   bounds="flush").resolve_scale(color="independent").resolve_legend(
    color="independent").properties(
    padding={"left": 5, "top": 2, "right": 0, "bottom": 0},
    background="white",
).configure(font=FONT).configure_view(stroke="black", strokeWidth=1.3).configure_axis(
    domain=False, grid=False, ticks=True, tickColor="black", tickWidth=1.3, tickSize=9,
    labelFont=FONT, labelFontSize=21, labelColor="black",
    titleFont=FONT, titleFontSize=22, titleFontWeight="normal", titleColor="black",
).configure_title(font=FONT, fontSize=22, fontWeight="normal", color="black")

chart.save("out.html", embed_options={"renderer": "svg", "actions": False})
